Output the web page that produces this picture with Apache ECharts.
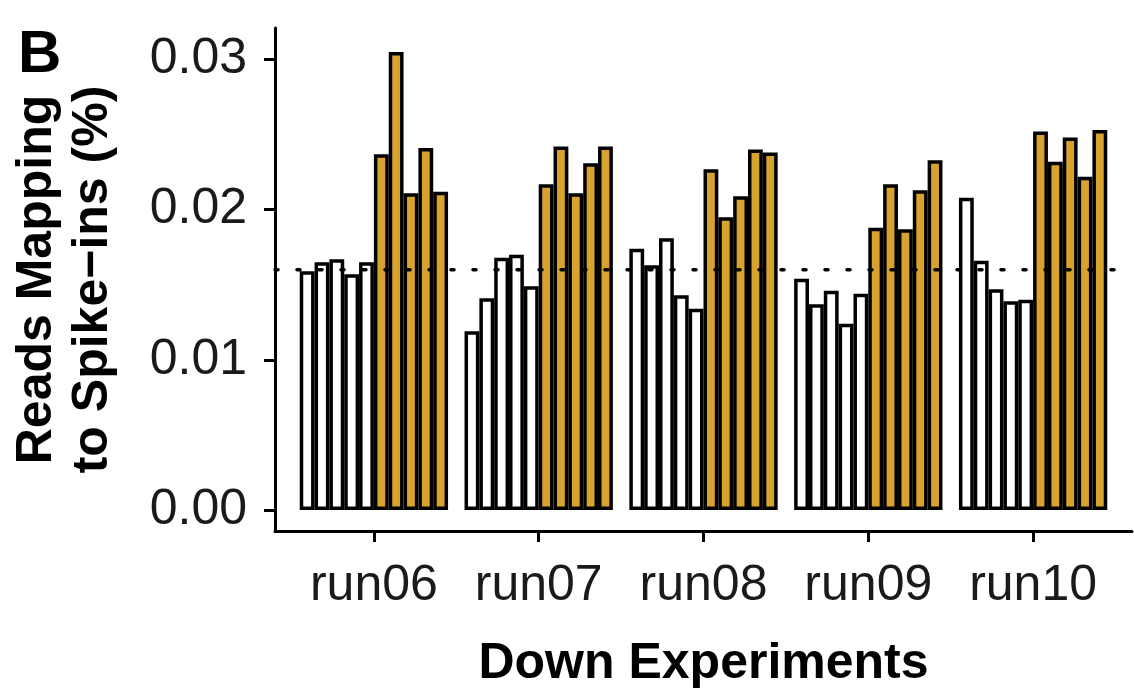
<!DOCTYPE html>
<html><head><meta charset="utf-8">
<script src="https://cdn.jsdelivr.net/npm/echarts@6/dist/echarts.min.js"></script>
<style>html,body{margin:0;padding:0;background:#fff}#c{width:1134px;height:689px}</style>
</head><body><div id="c"></div>
<script>
const categories = ['run06', 'run07', 'run08', 'run09', 'run10'];
// 10 libraries per run: 5 white (control) then 5 gold
const run06 = [0.0159, 0.0165, 0.0167, 0.0157, 0.0165, 0.0237, 0.0305, 0.0211, 0.0241, 0.0212];
const run07 = [0.0119, 0.0141, 0.0168, 0.0170, 0.0149, 0.0217, 0.0242, 0.0211, 0.0231, 0.0242];
const run08 = [0.0174, 0.0163, 0.0181, 0.0143, 0.0134, 0.0227, 0.0195, 0.0209, 0.0240, 0.0238];
const run09 = [0.0154, 0.0137, 0.0146, 0.0124, 0.0144, 0.0188, 0.0217, 0.0187, 0.0213, 0.0233];
const run10 = [0.0208, 0.0166, 0.0147, 0.0139, 0.0140, 0.0252, 0.0232, 0.0248, 0.0222, 0.0253];
const sampleGroup = ['white', 'white', 'white', 'white', 'white', 'gold', 'gold', 'gold', 'gold', 'gold'];
const referenceLevel = 0.016;
const yTicks = [0, 0.01, 0.02, 0.03];

const runs = [run06, run07, run08, run09, run10];
const fillColors = { white: '#ffffff', gold: '#D8A22F' };
const FONT = '"Liberation Sans", Arial, Helvetica, sans-serif';
const Y_MIN = -0.0014, Y_MAX = 0.0321;

const barSeries = sampleGroup.map((g, i) => ({
  type: 'bar',
  xAxisIndex: 1, yAxisIndex: 1,
  data: runs.map(r => r[i]),
  barGap: '0%',
  barCategoryGap: '10%',
  itemStyle: { color: fillColors[g], borderColor: '#000', borderWidth: 3.5 },
  silent: true,
  z: 2
}));

const option = {
  animation: false,
  backgroundColor: '#ffffff',
  title: {
    text: 'B', left: 13, top: 20,
    textStyle: { fontFamily: FONT, fontWeight: 'bold', fontSize: 60, color: '#000' }
  },
  grid: [
    { left: 275, right: 2, top: 28, bottom: 158, outerBoundsMode: 'none', containLabel: false },
    { left: 291.5, right: 18.5, top: 28, bottom: 158, outerBoundsMode: 'none', containLabel: false }
  ],
  xAxis: [
    {
      gridIndex: 0, type: 'value', min: 0, max: 1,
      axisLine: { show: true, onZero: false, lineStyle: { color: '#000', width: 3 } },
      axisTick: { show: false }, axisLabel: { show: false }, splitLine: { show: false },
      name: 'Down Experiments', nameLocation: 'middle', nameGap: 108,
      nameTextStyle: { fontFamily: FONT, fontWeight: 'bold', fontSize: 50, color: '#000' }
    },
    {
      gridIndex: 1, type: 'category', data: categories,
      axisLine: { show: false, onZero: false },
      axisTick: { show: true, alignWithLabel: true, interval: 0, length: 11, lineStyle: { color: '#000', width: 3 } },
      axisLabel: { interval: 0, hideOverlap: false, fontFamily: FONT, fontSize: 50, color: '#1a1a1a', margin: 30 },
      splitLine: { show: false }
    }
  ],
  yAxis: [
    {
      gridIndex: 0, type: 'value', min: Y_MIN, max: Y_MAX,
      axisLine: { show: true, onZero: false, lineStyle: { color: '#000', width: 3 } },
      axisTick: { show: true, customValues: yTicks, length: 11, lineStyle: { color: '#000', width: 3 } },
      axisLabel: { show: true, customValues: yTicks, formatter: v => v.toFixed(2),
        fontFamily: FONT, fontSize: 50, color: '#1a1a1a', margin: 28 },
      splitLine: { show: false },
      name: 'Reads Mapping\nto Spike\u2212ins (%)', nameLocation: 'middle', nameRotate: 90, nameGap: 154,
      nameTextStyle: { fontFamily: FONT, fontWeight: 'bold', fontSize: 50, color: '#000', lineHeight: 56, align: 'center' }
    },
    {
      gridIndex: 1, type: 'value', min: Y_MIN, max: Y_MAX, show: false,
      splitLine: { show: false }
    }
  ],
  series: [
    ...barSeries,
    {
      type: 'line', xAxisIndex: 0, yAxisIndex: 0,
      data: [[0, referenceLevel], [1, referenceLevel]],
      symbol: 'none', silent: true, z: 10,
      lineStyle: { color: '#000', width: 3.5, type: [3, 19], cap: 'round' }
    }
  ]
};

const chart = echarts.init(document.getElementById('c'), null, { renderer: 'canvas' });
chart.setOption(option);
</script>
</body></html>
